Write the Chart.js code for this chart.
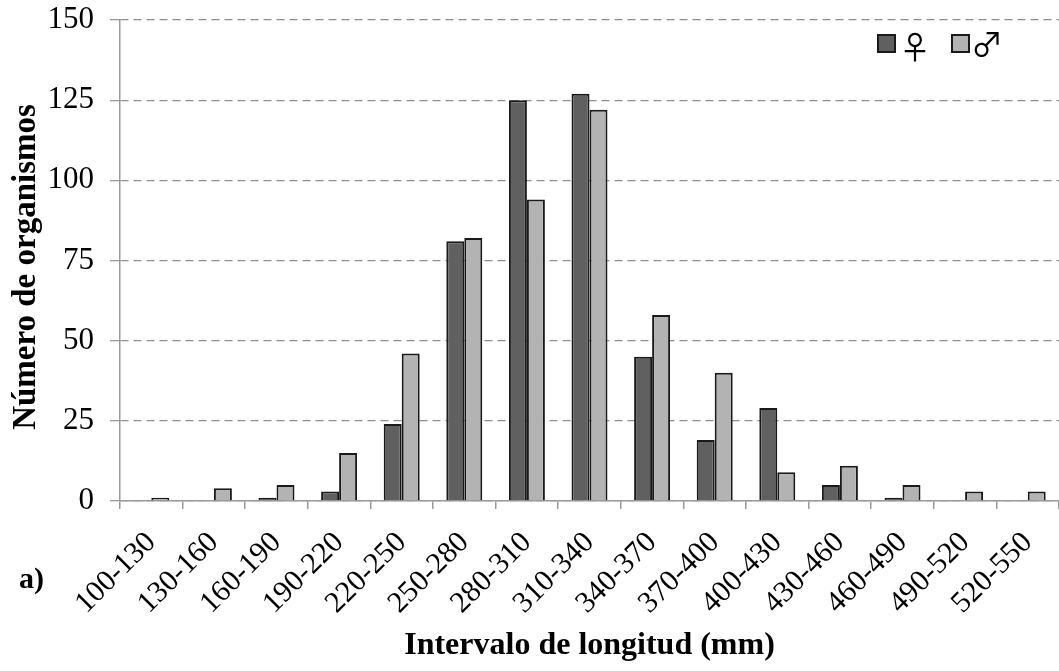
<!DOCTYPE html>
<html lang="es">
<head>
<meta charset="utf-8">
<title>Número de organismos por intervalo de longitud</title>
<script src="https://cdn.jsdelivr.net/npm/chart.js@4.4.1/dist/chart.umd.min.js"></script>
<style>
  html, body { margin: 0; padding: 0; background: #ffffff; }
  #wrap { width: 1059px; height: 671px; position: relative; }
</style>
</head>
<body>
<div id="wrap"><canvas id="grafica" width="1059" height="671"></canvas></div>
<script>
// Intervalos de longitud (mm)
const categories = ['100-130', '130-160', '160-190', '190-220', '220-250', '250-280', '280-310',
  '310-340', '340-370', '370-400', '400-430', '430-460', '460-490', '490-520', '520-550'];
// Número de organismos por sexo
const hembras = [0, 0, 1, 3, 24, 81, 125, 127, 45, 19, 29, 5, 1, 0, 0];
const machos  = [1, 4, 5, 15, 46, 82, 94, 122, 58, 40, 9, 11, 5, 3, 3];
// Escala vertical
const yMin = 0;
const yMax = 150;
const yStep = 25;

const xTitle = 'Intervalo de longitud (mm)';
const yTitle = 'Número de organismos';
const panelLabel = 'a)';
const serif = '"Liberation Serif", "Times New Roman", serif';

// Título vertical, etiqueta del panel y leyenda dibujados sobre el lienzo
const extras = {
  id: 'extras',
  afterDraw(chart) {
    const ctx = chart.ctx;
    ctx.save();
    ctx.fillStyle = '#000';

    ctx.save();
    ctx.translate(26, 267);
    ctx.rotate(-Math.PI / 2);
    ctx.font = 'bold 33px ' + serif;
    ctx.textAlign = 'center';
    ctx.textBaseline = 'middle';
    ctx.fillText(yTitle, 0, 0);
    ctx.restore();

    ctx.font = 'bold 30px ' + serif;
    ctx.textAlign = 'left';
    ctx.textBaseline = 'middle';
    ctx.fillText(panelLabel, 19, 580);

    // Leyenda
    const items = chart.data.datasets.map((ds, i) => ({
      label: ds.label, fill: ds.backgroundColor,
      x: i === 0 ? 878 : 952, tx: i === 0 ? 915 : 987, ty: i === 0 ? 47 : 44
    }));
    items.forEach(it => {
      ctx.fillStyle = it.fill;
      ctx.fillRect(it.x, 35, 17, 17);
      ctx.lineWidth = 2;
      ctx.strokeStyle = '#1a1a1a';
      ctx.strokeRect(it.x, 35, 17, 17);
      ctx.fillStyle = '#000';
      ctx.font = '32px "Noto Sans CJK JP", "DejaVu Sans", sans-serif';
      ctx.textAlign = 'center';
      ctx.textBaseline = 'middle';
      ctx.fillText(it.label, it.tx, it.ty);
    });
    ctx.restore();
  }
};

new Chart(document.getElementById('grafica'), {
  type: 'bar',
  data: {
    labels: categories,
    datasets: [
      { label: '♀', data: hembras, backgroundColor: '#606060', borderColor: '#1a1a1a', borderWidth: 2 },
      { label: '♂', data: machos, backgroundColor: '#b3b3b3', borderColor: '#1a1a1a', borderWidth: 2 }
    ]
  },
  options: {
    responsive: false,
    animation: false,
    layout: { padding: { top: 20, right: 0, left: 0, bottom: 0 } },
    datasets: { bar: { categoryPercentage: 0.575, barPercentage: 1.0 } },
    plugins: {
      legend: { display: false },
      tooltip: { enabled: false }
    },
    scales: {
      x: {
        offset: true,
        grid: { offset: true, drawOnChartArea: false, drawTicks: true, tickLength: 8, color: '#9a9a9a', lineWidth: 1.5 },
        border: { color: '#9a9a9a', width: 1.5 },
        ticks: { color: '#000', font: { family: serif, size: 30 }, minRotation: 45, maxRotation: 45, padding: 16, autoSkip: false },
        title: { display: true, text: xTitle, color: '#000', font: { family: serif, size: 32, weight: 'bold' }, padding: { top: 0, bottom: 6 } },
        afterFit(scale) {
          scale.height = 170;
          scale.paddingLeft = 0;
          scale.paddingRight = 0;
        }
      },
      y: {
        min: yMin,
        max: yMax,
        grid: { color: '#8f8f8f', lineWidth: 1.3, tickLength: 10, tickColor: '#9a9a9a' },
        border: { color: '#9a9a9a', width: 1.5, dash: [8, 5] },
        ticks: { stepSize: yStep, color: '#000', font: { family: serif, size: 31 }, padding: 16 },
        afterFit(scale) {
          scale.width = 120;
          scale.paddingTop = 0;
          scale.paddingBottom = 0;
        }
      }
    }
  },
  plugins: [extras]
});
</script>
</body>
</html>
